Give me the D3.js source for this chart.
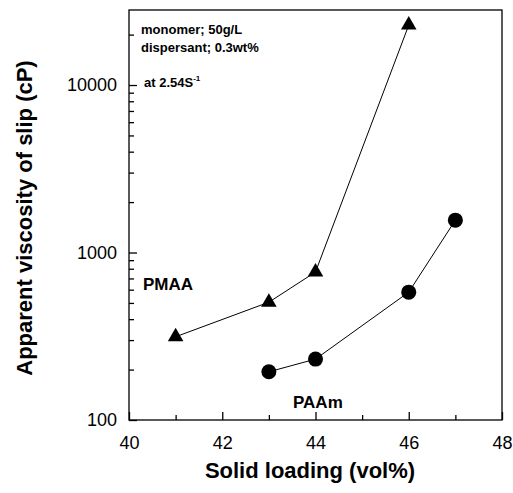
<!DOCTYPE html>
<html>
<head>
<meta charset="utf-8">
<script src="https://cdn.jsdelivr.net/npm/d3@7"></script>
<style>
  body { margin: 0; background: #fff; }
  svg { display: block; font-family: "Liberation Sans", Arial, sans-serif; }
</style>
</head>
<body>
<svg id="chart"></svg>
<script>
// data
let pmaaLoading = [41, 43, 44, 46];
let pmaaViscosity = [314, 505, 765, 22800];
let paamLoading = [43, 44, 46, 47];
let paamViscosity = [194, 231, 580, 1560];

let xTicks = [40, 42, 44, 46, 48];
let xMinorTicks = [41, 43, 45, 47];
let yTicks = [100, 1000, 10000];
let notes = ['monomer; 50g/L', 'dispersant; 0.3wt%'];

let width = 513;
let height = 493;
let plotLeft = 129, plotRight = 502, plotTop = 10, plotBottom = 420;

let svg = d3.select('#chart').attr('width', width).attr('height', height);

let xScale = d3.scaleLinear().domain([40, 48]).range([plotLeft, plotRight]);
let yScale = d3.scaleLog().domain([100, 28050]).range([plotBottom, plotTop]);

// minor log ticks 200..900, 2000..9000, 20000
let yMinor = [];
[100, 1000, 10000].forEach(d => {
  for (let k = 2; k <= 9; k++) {
    if (d * k < 28050) yMinor.push(d * k);
  }
});

// frame
svg.append('rect')
  .attr('x', plotLeft).attr('y', plotTop)
  .attr('width', plotRight - plotLeft).attr('height', plotBottom - plotTop)
  .attr('fill', 'none').attr('stroke', '#000').attr('stroke-width', 1.3);

// x axis
let xAxis = d3.axisBottom(xScale).tickValues(xTicks).tickSize(-8).tickPadding(16)
  .tickFormat(d3.format('d'));
let gx = svg.append('g').attr('transform', `translate(0, ${plotBottom})`).call(xAxis);
gx.select('.domain').remove();
gx.selectAll('text').attr('font-size', 18).attr('font-family', '"Liberation Sans", Arial, sans-serif').attr('fill', '#000');

let gxm = svg.append('g').attr('transform', `translate(0, ${plotBottom})`)
  .call(d3.axisBottom(xScale).tickValues(xMinorTicks).tickSize(-5).tickFormat(''));
gxm.select('.domain').remove();

// y axis
let yAxis = d3.axisLeft(yScale).tickValues(yTicks).tickSize(-8).tickPadding(12)
  .tickFormat(d3.format('d'));
let gy = svg.append('g').attr('transform', `translate(${plotLeft}, 0)`).call(yAxis);
gy.select('.domain').remove();
gy.selectAll('text').attr('font-size', 18).attr('font-family', '"Liberation Sans", Arial, sans-serif').attr('fill', '#000');

let gym = svg.append('g').attr('transform', `translate(${plotLeft}, 0)`)
  .call(d3.axisLeft(yScale).tickValues(yMinor).tickSize(-5).tickFormat(''));
gym.select('.domain').remove();

svg.selectAll('.tick line').attr('stroke-width', 1.3);

// lines
let line = d3.line().x(d => xScale(d[0])).y(d => yScale(d[1]));
let pmaa = d3.zip(pmaaLoading, pmaaViscosity);
let paam = d3.zip(paamLoading, paamViscosity);

svg.append('path').datum(pmaa).attr('d', line)
  .attr('fill', 'none').attr('stroke', '#000').attr('stroke-width', 1);
svg.append('path').datum(paam).attr('d', line)
  .attr('fill', 'none').attr('stroke', '#000').attr('stroke-width', 1);

// markers
svg.selectAll('.tri').data(pmaa).enter().append('path')
  .attr('class', 'tri')
  .attr('d', d3.symbol().type(d3.symbolTriangle).size(105))
  .attr('transform', d => `translate(${xScale(d[0])}, ${yScale(d[1])})`)
  .attr('fill', '#000');

svg.selectAll('.dot').data(paam).enter().append('circle')
  .attr('class', 'dot')
  .attr('cx', d => xScale(d[0]))
  .attr('cy', d => yScale(d[1]))
  .attr('r', 7.5)
  .attr('fill', '#000');

// series labels
svg.append('text').attr('x', 143).attr('y', 290)
  .attr('font-size', 17).attr('font-weight', 'bold').text('PMAA');
svg.append('text').attr('x', 293).attr('y', 408)
  .attr('font-size', 17).attr('font-weight', 'bold').text('PAAm');

// notes
let noteFont = '"Liberation Sans Narrow", "Arial Narrow", "Liberation Sans", sans-serif';
notes.forEach((t, i) => {
  svg.append('text').attr('x', 141).attr('y', 34 + i * 18)
    .attr('font-family', noteFont).attr('font-size', 13).attr('font-weight', 'bold')
    .text(t);
});
let shear = svg.append('text').attr('x', 144).attr('y', 87)
  .attr('font-family', noteFont).attr('font-size', 13).attr('font-weight', 'bold');
shear.append('tspan').text('at 2.54S');
shear.append('tspan').attr('dy', -6).attr('font-size', 8).text('-1');

// axis titles
svg.append('text').attr('x', 310).attr('y', 478)
  .attr('text-anchor', 'middle').attr('font-size', 22).attr('font-weight', 'bold')
  .text('Solid loading (vol%)');
svg.append('text')
  .attr('transform', `translate(32, 218) rotate(-90)`)
  .attr('text-anchor', 'middle').attr('font-size', 22).attr('font-weight', 'bold')
  .text('Apparent viscosity of slip (cP)');
</script>
</body>
</html>
